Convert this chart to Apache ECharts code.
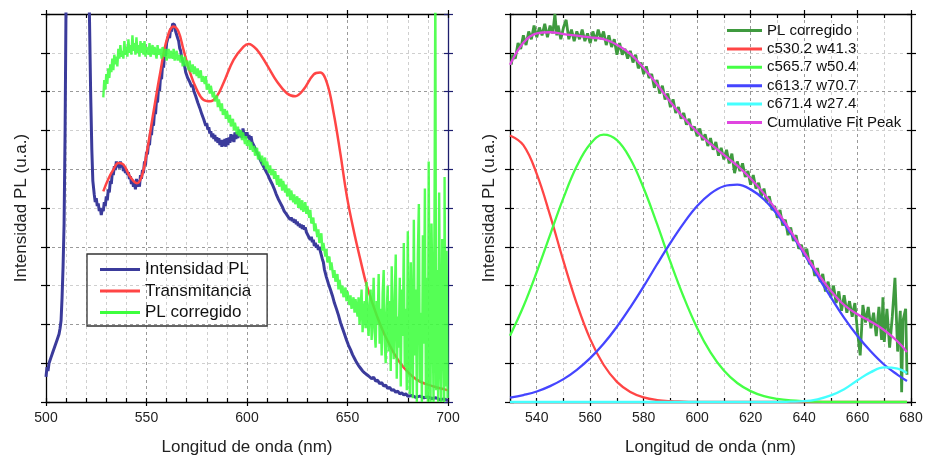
<!DOCTYPE html>
<html><head><meta charset="utf-8">
<script src="https://cdn.jsdelivr.net/npm/echarts@6/dist/echarts.min.js"></script>
<style>html,body{margin:0;padding:0;background:#fff}#c{width:925px;height:460px}</style>
</head><body><div id="c"></div>
<script>
// ---------- DATA ----------
const xTitle = 'Longitud de onda (nm)';
const yTitle = 'Intensidad PL (u.a.)';
const leftLabels = [500, 550, 600, 650, 700];
const rightLabels = [540, 560, 580, 600, 620, 640, 660, 680];

// Left panel: Intensidad PL [nm, value]
const intensidadPL = [[500,0.65],[500.5,0.9],[501,0.8],[501.5,1.0],[502,1.05],[502.5,1.15],[503,1.2],[503.5,1.3],[504,1.35],[504.5,1.45],[505,1.5],[505.5,1.6],[506,1.65],[506.5,1.75],[507,1.9],[507.5,2.1],[508,2.7],[508.5,3.5],[509,4.6],[509.5,7],[510,10.5],[511,14],[520,14],[521,11],[521.6,10],[522.2,8],[522.8,6.5],[523.3,5.7],
[524,5.35],[524.5,5.15],[525,5.25],[525.5,5.05],[526,5.12],[526.5,4.92],[527,5.0],[527.5,4.82],[528,4.98],[528.5,4.92],[529,5.15],[529.5,5.05],[530,5.3],[530.5,5.2],[531,5.48],[531.5,5.4],[532,5.7],[532.5,5.62],[533,5.92],[533.5,5.85],[534,6.08],[534.5,5.98],[535,6.2],[535.5,6.05],[536,6.18],[536.5,6.02],[537,6.2],[537.5,6.05],[538,6.12],[538.5,5.95],[539,6.05],[539.5,5.9],[540,6.0],[540.5,5.85],[541,5.92],[541.5,5.75],[542,5.82],[542.5,5.62],[543,5.72],[543.5,5.55],[544,5.65],[544.5,5.48],[545,5.75],[545.5,5.55],[546,5.7],[546.5,5.55],[547,5.85],[547.5,5.75],[548,5.98],[548.5,5.9],[549,6.2],[549.5,6.1],[550,6.45],[550.5,6.38],[551,6.68],[551.5,6.62],[552,6.95],[552.5,6.88],[553,7.2],[553.5,7.12],[554,7.5],[554.5,7.42],[555,7.8],[555.5,7.72],[556,8.1],[556.5,8.02],[557,8.4],[557.5,8.32],[558,8.7],[558.5,8.62],[559,9.0],[559.5,8.92],[560,9.25],[560.5,9.2],[561,9.45],[561.5,9.38],[562,9.62],[562.5,9.55],[563,9.75],[563.5,9.7],[564,9.72],[564.5,9.55],[565,9.55],[565.5,9.38],[566,9.3],[566.5,9.12],[567,9.05],[567.5,8.88],[568,8.9],[568.5,8.72],[569,8.65],[569.5,8.5],[570,8.48],[570.5,8.35],[571,8.38],[571.5,8.25],[572,8.28],[572.5,8.12],[573,8.18],[573.5,8.02],[574,8.05],[574.5,7.88],[575,7.9],[575.5,7.72],[576,7.75],[576.5,7.58],[577,7.6],[577.5,7.42],[578,7.45],[578.5,7.28],[579,7.3],[579.5,7.12],[580,7.18],[580.5,7.02],[581,7.08],[581.5,6.92],[582,6.98],[582.5,6.82],[583,6.92],[583.5,6.78],[584,6.88],[584.5,6.72],[585,6.82],[585.5,6.68],[586,6.8],[586.5,6.62],[587,6.75],[587.5,6.58],[588,6.75],[588.5,6.6],[589,6.78],[589.5,6.58],[590,6.8],[590.5,6.62],[591,6.82],[591.5,6.68],[592,6.9],[592.5,6.72],[593,6.88],[593.5,6.7],[594,6.95],[594.5,6.78],[595,6.95],[595.5,6.8],[596,7.02],[596.5,6.85],[597,6.98],[597.5,6.8],[598,7.05],[598.5,6.88],[599,6.95],[599.5,6.8],[600,6.95],[600.5,6.8],[601,6.88],[601.5,6.72],[602,6.85],[602.5,6.7],[603,6.75],[603.5,6.6],[604,6.62],[604.5,6.48],[605,6.5],[605.5,6.38],[606,6.38],[606.5,6.25],[607,6.26],[607.5,6.14],[608,6.15],[608.5,6.04],[609,6.05],[609.5,5.94],[610,5.95],[610.5,5.84],[611,5.83],[611.5,5.72],[612,5.73],[612.5,5.62],[613,5.6],[613.5,5.5],[614,5.48],[614.5,5.36],[615,5.36],[615.5,5.24],[616,5.26],[616.5,5.14],[617,5.15],[617.5,5.04],[618,5.04],[618.5,4.92],[619,4.95],[619.5,4.85],[620,4.87],[620.5,4.77],[621,4.8],[621.5,4.7],[622,4.76],[622.5,4.66],[623,4.72],[623.5,4.62],[624,4.7],[624.5,4.58],[625,4.65],[625.5,4.54],[626,4.6],[626.5,4.5],[627,4.57],[627.5,4.46],[628,4.55],[628.5,4.44],[629,4.5],[629.5,4.38],[630,4.42],[630.5,4.28],[631,4.32],[631.5,4.18],[632,4.26],[632.5,4.12],[633,4.18],[633.5,4.02],[634,4.1],[634.5,3.98],[635,4.05],[635.5,3.92],[636,4.0],[636.5,3.88],[637,3.85],[637.5,3.68],[638,3.6],[638.5,3.42],[639,3.4],[639.5,3.22],[640,3.2],[640.5,3.05],[641,3.05],[641.5,2.9],[642,2.9],[642.5,2.74],[643,2.72],[643.5,2.55],[644,2.55],[644.5,2.4],[645,2.4],[645.5,2.24],[646,2.2],[646.5,2.05],[647,2.04],[647.5,1.9],[648,1.88],[648.5,1.75],[649,1.74],[649.5,1.6],[650,1.58],[650.5,1.46],[651,1.46],[651.5,1.35],[652,1.32],[652.5,1.22],[653,1.22],[653.5,1.12],[654,1.12],[654.5,1.02],[655,1.02],[655.5,0.94],[656,0.95],[656.5,0.87],[657,0.88],[657.5,0.8],[658,0.82],[658.5,0.75],[659,0.78],[659.5,0.71],[660,0.74],[660.5,0.67],[661,0.7],[662,0.6],[663,0.64],[664,0.54],[665,0.56],[666,0.47],[667,0.5],[668,0.41],[669,0.44],[670,0.35],[671,0.38],[672,0.3],[673,0.32],[674,0.25],[675,0.28],[676,0.21],[677,0.24],[678,0.18],[679,0.21],[680,0.15],[682,0.17],[684,0.12],[686,0.15],[688,0.11],[690,0.13],[692,0.09],[694,0.11],[696,0.06],[698,0.08],[700,0.04]];

// Left panel: Transmitancia
const transmitancia = [[528.5,5.43],[531,5.75],[533.5,5.99],[536,6.16],[538.5,6.12],[541.8,5.81],[545.2,5.64],[547.6,5.81],[550.1,6.42],[553.4,7.45],[556.8,8.48],[560.1,9.34],[563.4,9.68],[565.9,9.55],[568.4,9.08],[571.7,8.48],[575,8.05],[578.3,7.79],[581.7,7.75],[585,7.88],[588.3,8.22],[593.3,8.82],[598.3,9.16],[600.8,9.23],[604.9,9.08],[609.9,8.69],[614.9,8.26],[619.8,7.96],[624,7.88],[628.1,8.05],[633.1,8.44],[636.4,8.49],[639.8,8.22],[643.1,7.45],[646.4,6.42],[649.7,5.3],[653,4.44],[656.4,3.67],[659.7,2.98],[664.7,2.21],[669.6,1.61],[676.3,1.0],[684.6,0.57],[692.9,0.4],[698.7,0.32],[700,0.3]];

// Left panel: PL corregido
const plCorregidoL = [[528.5,7.85],[529,8.3],[529.5,8.05],[530,8.45],[530.5,8.2],[531,8.6],[531.5,8.35],[532,8.7],[532.5,8.5],[533,8.85],[533.5,8.55],[534,8.95],[534.5,8.7],[535,8.9],[535.5,8.65],[536,9.1],[536.5,8.85],[537,9.2],[537.5,8.9],[538,9.05],[538.5,8.85],[539,9.3],[539.5,8.95],[540,9.15],[540.5,8.9],[541,9.35],[541.5,9.0],[542,9.2],[542.5,8.95],[543,9.45],[543.5,9.05],[544,9.25],[544.5,8.95],[545,9.4],[545.5,9.0],[546,9.2],[546.5,8.9],[547,9.3],[547.5,9.0],[548,9.25],[548.5,8.95],[549,9.3],[549.5,8.9],[550,9.15],[551,8.95],[551.5,9.25],[552,8.9],[553,9.2],[553.5,8.95],[554,9.15],[555,8.85],[555.5,9.2],[556,8.95],[557,9.1],[557.5,8.85],[558,9.15],[559,8.9],[559.5,9.1],[560,8.8],[561,9.1],[561.5,8.85],[562,9.05],[563,8.85],[563.5,9.1],[564,8.8],[565,9.05],[565.5,8.8],[566,8.95],[567,8.75],[567.5,8.95],[568,8.65],[569,8.9],[569.5,8.65],[570,8.8],[571,8.55],[571.5,8.8],[572,8.5],[573,8.7],[573.5,8.45],[574,8.65],[575,8.4],[575.5,8.6],[576,8.35],[577,8.55],[577.5,8.25],[578,8.4],[579,8.2],[579.5,8.4],[580,8.05],[581,8.2],[581.5,7.95],[582,8.15],[583,7.85],[583.5,8.0],[584,7.75],[585,7.9],[585.5,7.6],[586,7.8],[587,7.5],[587.5,7.7],[588,7.4],[589,7.55],[589.5,7.3],[590,7.5],[591,7.2],[591.5,7.4],[592,7.1],[593,7.3],[593.5,7.0],[594,7.2],[595,6.9],[595.5,7.1],[596,6.85],[597,7.0],[597.5,6.75],[598,6.95],[599,6.65],[599.5,6.85],[600,6.6],[601,6.75],[601.5,6.5],[602,6.7],[603,6.45],[603.5,6.6],[604,6.35],[605,6.55],[605.5,6.25],[606,6.45],[607,6.2],[607.5,6.35],[608,6.1],[609,6.3],[609.5,6.0],[610,6.2],[611,5.9],[611.5,6.1],[612,5.85],[613,6.0],[613.5,5.75],[614,5.95],[615,5.6],[615.5,5.85],[616,5.55],[617,5.75],[617.5,5.45],[618,5.7],[619,5.4],[619.5,5.6],[620,5.3],[621,5.5],[621.5,5.2],[622,5.45],[623,5.15],[623.5,5.35],[624,5.1],[625,5.3],[625.5,5.0],[626,5.25],[627,4.95],[627.5,5.2],[628,4.9],[629,5.15],[629.5,4.85],[630,5.05],[631,4.75],[631.5,4.95],[632,4.6],[633,4.75],[633.5,4.4],[634,4.6],[635,4.25],[635.5,4.45],[636,4.1],[637,4.35],[637.5,3.9],[638,4.1],[639,3.75],[639.5,3.95],[640,3.6],[641,3.75],[641.5,3.4],[642,3.6],[643,3.2],[643.5,3.4],[644,3.1],[645,3.3],[645.5,2.9],[646,3.15],[647,2.8],[647.5,3.0],[648,2.7],[649,2.95],[649.5,2.6],[650,2.85],[651,2.5],[651.5,2.75],[652,2.4],[653,2.7],[653.5,2.3],[654,2.65],[655,2.2],
[655.5,2.7],[656,2.0],[656.5,2.4],[657,2.9],[657.5,1.8],[658,2.3],[658.5,2.6],[659,1.9],[659.5,3.1],[660,2.1],[660.5,1.7],[661,2.5],[661.5,2.9],[662,1.6],[662.5,2.2],[663,3.2],[663.5,1.8],[664,1.4],[664.5,2.6],[665,2.0],[665.5,3.3],[666,1.5],[666.5,2.4],[667,1.2],[667.5,2.8],[668,3.4],[668.5,1.6],[669,1.0],[669.5,2.3],[670,3.0],[670.5,1.3],[671,2.6],[671.5,0.8],[672,3.5],[672.5,1.9],[673,1.1],[673.5,2.7],[674,3.8],[674.5,0.6],[675,2.2],[675.5,1.4],[676,3.2],[676.5,0.4],[677,2.9],[677.5,1.7],[678,4.1],[678.5,0.9],[679,2.4],[679.5,0.3],[680,4.4],[680.5,1.6],[681,0.2],[681.5,3.6],[682,2.0],[682.5,0.1],[683,4.7],[683.5,1.2],[684,2.9],[684.5,0.0],[685,3.8],[685.5,5.1],[686,0.5],[686.5,2.3],[687,0.0],[687.5,4.3],[688,1.5],[688.5,5.5],[689,0.1],[689.5,3.2],[690,0.0],[690.4,6.2],[690.8,1.8],[691.3,0.0],[691.8,4.6],[692.3,2.6],[692.8,0.0],[693.3,5.0],[693.7,10.8],[694.1,0.3],[694.6,3.4],[695.1,0.0],[695.6,5.4],[696.1,1.2],[696.6,0.0],[697.1,4.2],[697.6,2.0],[698.1,0.0],[698.3,5.8],[698.8,0.4],[699.3,3.9],[699.8,0.1]];

// Right panel: PL corregido (measured)
const plCorregidoR = [[530.5,8.7],[531,8.95],[532,8.85],[533,9.25],[534,9.1],[535,9.45],[536,9.2],[537,9.55],[538,9.35],[539,9.7],[540,9.4],[541,9.65],[542,9.45],[543,9.75],[544,9.4],[545,9.7],[546,9.5],[546.8,10.0],[547.5,9.45],[548,9.7],[549,9.35],[550,9.65],[551,9.85],[552,9.35],[553,9.6],[554,9.3],[555,9.55],[556,9.35],[557,9.6],[558,9.3],[559,9.5],[560,9.25],[561,9.55],[562,9.3],[563,9.6],[564,9.35],[565,9.55],[566,9.2],[567,9.45],[568,9.15],[569,9.35],[570,8.95],[571,9.25],[572,8.95],[573,9.1],[574,8.85],[575,9.05],[576,8.75],[577,8.95],[578,8.6],[579,8.75],[580,8.45],[581,8.65],[582,8.35],[583,8.45],[584,8.1],[585,8.3],[586,7.95],[587,8.15],[588,7.8],[589,7.95],[590,7.6],[591,7.8],[592,7.45],[593,7.6],[594,7.3],[595,7.45],[596,7.15],[597,7.3],[598,7.0],[599,7.1],[600,6.85],[601,7.05],[602,6.75],[603,6.9],[604,6.6],[605,6.8],[606,6.5],[607,6.7],[608,6.35],[609,6.55],[610,6.25],[611,6.5],[612,6.15],[613,6.4],[614,5.9],[615,6.2],[616,5.95],[617,6.15],[618,5.8],[619,5.95],[620,5.6],[621,5.85],[622,5.5],[623,5.65],[624,5.3],[625,5.5],[626,5.15],[627,5.3],[628,4.95],[629,5.05],[630,4.75],[631,4.95],[632,4.55],[633,4.7],[634,4.3],[635,4.5],[636,4.15],[637,4.3],[638,3.95],[639,4.05],[640,3.75],[641,3.95],[642,3.55],[643,3.65],[644,3.25],[645,3.45],[646,3.1],[647,3.3],[648,2.85],[649,3.1],[650,2.7],[651,3.0],[652,2.55],[653,2.85],[654,2.35],[655,2.75],[656,2.3],[657,2.6],[658,2.2],[659,2.55],[660,1.8],[661,1.2],[662,2.5],[663,2.05],[664,2.45],[665,1.9],[666,2.3],[667,1.7],[668,2.45],[669,1.6],[669.5,2.7],[670,1.55],[671,2.4],[672,1.4],[673,2.2],[674,3.2],[675,1.3],[676,2.35],[676.5,0.25],[677,2.1],[678,2.4],[678.5,0.7]];

// Right panel: fitted components (read at 5 nm)
const fitX   = [530,535,540,545,550,555,560,565,570,575,580,585,590,595,600,605,610,615,620,625,630,635,640,645,650,655,660,665,670,675,678.5];
const c530   = [6.87,6.62,5.88,4.81,3.63,2.53,1.62,0.96,0.52,0.26,0.12,0.05,0.02,0.01,0,0,0,0,0,0,0,0,0,0,0,0,0,0,0,0,0];
const c565   = [1.71,2.46,3.35,4.31,5.26,6.08,6.65,6.89,6.75,6.27,5.51,4.59,3.61,2.70,1.91,1.28,0.81,0.49,0.28,0.15,0.08,0.04,0.02,0.01,0,0,0,0,0,0,0];
const c613   = [0.11,0.18,0.27,0.41,0.59,0.83,1.13,1.50,1.94,2.44,2.98,3.55,4.10,4.61,5.05,5.37,5.56,5.60,5.48,5.22,4.83,4.35,3.82,3.25,2.70,2.17,1.70,1.30,0.96,0.70,0.54];
const c671   = [0,0,0,0,0,0,0,0,0,0,0,0,0,0,0,0,0,0,0,0,0,0.01,0.02,0.07,0.17,0.33,0.56,0.77,0.89,0.86,0.75];
const cumFit = [8.69,9.26,9.50,9.53,9.48,9.44,9.40,9.35,9.21,8.97,8.61,8.19,7.73,7.32,6.96,6.65,6.37,6.09,5.76,5.37,4.91,4.40,3.86,3.33,2.87,2.50,2.26,2.07,1.85,1.56,1.29];

// ---------- CHART ----------
const FONT = '"Liberation Sans", Arial, sans-serif';
const zip = (xs, ys) => xs.map((x, i) => [x, ys[i]]);
const MAJ = '#9a9a9a', MIN = '#cfcfcf';

function xAxes(gi, min, max, labels, majors, gridColors) {
  const tk = {color: '#000', width: 1.2};
  const base = {gridIndex: gi, type: 'value', min, max, interval: 10};
  return [
    Object.assign({}, base, {position: 'bottom', name: xTitle, nameLocation: 'middle', nameGap: 37,
      nameTextStyle: {fontSize: 17, color: '#222', fontFamily: FONT},
      axisLine: {show: true, onZero: false, lineStyle: {color: '#000', width: 1.3}},
      axisTick: {show: true, inside: true, length: 4, lineStyle: tk},
      axisLabel: {show: true, customValues: labels, fontSize: 14, color: '#222', margin: 9, fontFamily: FONT},
      splitLine: {show: true, lineStyle: {type: [3, 3], color: gridColors, width: 1}}}),
    Object.assign({}, base, {position: 'bottom', axisLine: {show: false, onZero: false},
      axisTick: {show: true, inside: false, length: 4, customValues: majors, lineStyle: tk},
      axisLabel: {show: false}, splitLine: {show: false}}),
    Object.assign({}, base, {position: 'top', axisLine: {show: true, onZero: false, lineStyle: {color: '#000', width: 1.3}},
      axisTick: {show: true, inside: true, length: 4, lineStyle: tk},
      axisLabel: {show: false}, splitLine: {show: false}}),
    Object.assign({}, base, {position: 'top', axisLine: {show: false, onZero: false},
      axisTick: {show: true, inside: false, length: 4, customValues: majors, lineStyle: tk},
      axisLabel: {show: false}, splitLine: {show: false}})
  ];
}
function yAxes(gi, nameGap, rightColor) {
  const base = {gridIndex: gi, type: 'value', min: 0, max: 10, interval: 1, axisLabel: {show: false}};
  const tkL = {color: '#000', width: 1.2};
  const tkR = {color: rightColor, width: 1.2};
  return [
    Object.assign({}, base, {position: 'left', name: yTitle, nameLocation: 'middle', nameGap: nameGap,
      nameTextStyle: {fontSize: 17, color: '#222', fontFamily: FONT},
      axisLine: {show: true, onZero: false, lineStyle: {color: '#000', width: 1.3}},
      axisTick: {show: true, inside: true, length: 4, lineStyle: tkL},
      splitLine: {show: true, lineStyle: {type: [3, 3], color: [MAJ, MIN], width: 1}}}),
    Object.assign({}, base, {position: 'left', axisLine: {show: false, onZero: false},
      axisTick: {show: true, inside: false, length: 5, lineStyle: tkL}, splitLine: {show: false}}),
    Object.assign({}, base, {position: 'right', axisLine: {show: true, onZero: false, lineStyle: {color: rightColor, width: 1.3}},
      axisTick: {show: true, inside: true, length: 4, lineStyle: tkR}, splitLine: {show: false}}),
    Object.assign({}, base, {position: 'right', axisLine: {show: false, onZero: false},
      axisTick: {show: true, inside: false, length: 5, lineStyle: tkR}, splitLine: {show: false}})
  ];
}
function line(name, data, color, width, xi, yi, smooth, opacity) {
  return {name, type: 'line', data, xAxisIndex: xi, yAxisIndex: yi, showSymbol: false, symbol: 'none',
    smooth: smooth || false, clip: true, color: color, itemStyle: {color: color},
    lineStyle: {color: color, width: width, opacity: opacity == null ? 1 : opacity}, emphasis: {disabled: true}};
}

const chart = echarts.init(document.getElementById('c'), null, {renderer: 'canvas'});
chart.setOption({
  animation: false,
  backgroundColor: '#fff',
  grid: [
    {left: 46, top: 14, width: 402, height: 388, outerBoundsMode: 'none'},
    {left: 510, top: 14, width: 401, height: 388, outerBoundsMode: 'none'}
  ],
  xAxis: xAxes(0, 500, 700, leftLabels, leftLabels, [MAJ, MIN, MIN, MIN, MIN])
    .concat(xAxes(1, 530, 680, rightLabels, rightLabels, [MIN, MAJ])),
  yAxis: yAxes(0, 16, '#1e1e6e').concat(yAxes(1, 12, '#000')),
  legend: [
    {data: ['Intensidad PL', 'Transmitancia', 'PL corregido'], orient: 'vertical', left: 87, top: 254,
      icon: 'rect', itemWidth: 40, itemHeight: 3, itemGap: 4.5, padding: [7, 16, 5, 13],
      borderColor: '#333', borderWidth: 1.3, selectedMode: false,
      textStyle: {fontSize: 17, color: '#111', fontFamily: FONT}},
    {data: ['PL corregido ', 'c530.2 w41.3', 'c565.7 w50.4', 'c613.7 w70.7', 'c671.4 w27.4', 'Cumulative Fit Peak'],
      orient: 'vertical', left: 722, top: 23, icon: 'rect', itemWidth: 35, itemHeight: 3, itemGap: 3.4,
      padding: [0, 0, 0, 5], selectedMode: false,
      textStyle: {fontSize: 15, color: '#111', fontFamily: FONT}}
  ],
  series: [
    line('Intensidad PL', intensidadPL, '#3b3b9b', 3, 0, 0),
    line('Transmitancia', transmitancia, '#ff4545', 2.5, 0, 0, 0.4),
    line('PL corregido', plCorregidoL, '#3dff3d', 2.4, 0, 0, false, 0.88),
    line('PL corregido ', plCorregidoR, '#3f9a3f', 2.8, 4, 4),
    line('c530.2 w41.3', zip(fitX, c530), '#ff4545', 2.3, 4, 4, 0.4),
    line('c565.7 w50.4', zip(fitX, c565), '#45ff45', 2.3, 4, 4, 0.4),
    line('c613.7 w70.7', zip(fitX, c613), '#4545ff', 2.3, 4, 4, 0.4),
    line('c671.4 w27.4', zip(fitX, c671), '#45ffff', 2.3, 4, 4, 0.4),
    line('Cumulative Fit Peak', zip(fitX, cumFit), '#e045e0', 2.3, 4, 4, 0.4)
  ]
});
</script>
</body></html>
